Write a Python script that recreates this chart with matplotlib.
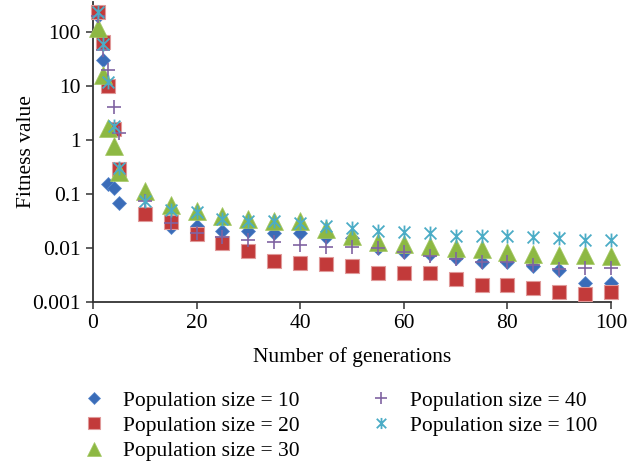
import matplotlib
matplotlib.use("Agg")
import matplotlib.pyplot as plt
from matplotlib.path import Path

plt.rcParams['font.family'] = ['Liberation Serif', 'DejaVu Serif']

generations = [1, 2, 3, 4, 5, 10, 15, 20, 25, 30, 35, 40, 45, 50, 55, 60, 65, 70, 75, 80, 85, 90, 95, 100]

pop10 = [200, 30, 0.155, 0.13, 0.068, 0.045, 0.024, 0.026, 0.021, 0.021, 0.019, 0.019, 0.016, 0.015,
         0.010, 0.0085, 0.0078, 0.0065, 0.0055, 0.0055, 0.0047, 0.0039, 0.0022, 0.0022]
pop20 = [235, 65, 10, 1.6, 0.29, 0.043, 0.030, 0.018, 0.0123, 0.0087, 0.0057, 0.0053, 0.0050, 0.0047,
         0.0035, 0.0035, 0.0035, 0.0027, 0.0021, 0.0021, 0.0018, 0.0015, 0.0014, 0.0015]
pop30 = [118, 16, 1.67, 0.78, 0.26, 0.115, 0.063, 0.049, 0.039, 0.035, 0.032, 0.031, 0.022, 0.017,
         0.013, 0.012, 0.011, 0.010, 0.0097, 0.0085, 0.0078, 0.0075, 0.0075, 0.0072]
pop40 = [200, 46, 20, 4.1, 1.36, 0.075, 0.029, 0.019, 0.016, 0.014, 0.013, 0.0114, 0.0105, 0.0105,
         0.0100, 0.0085, 0.0071, 0.0063, 0.0056, 0.0056, 0.0049, 0.0041, 0.0042, 0.0042]
pop100 = [235, 60, 12, 1.8, 0.30, 0.074, 0.050, 0.046, 0.035, 0.032, 0.031, 0.029, 0.026, 0.023,
          0.021, 0.020, 0.019, 0.017, 0.017, 0.017, 0.016, 0.015, 0.0141, 0.0141]

labels = ["Population size = 10", "Population size = 20", "Population size = 30",
          "Population size = 40", "Population size = 100"]
x_ticks = [0, 20, 40, 60, 80, 100]
y_ticks = [0.001, 0.01, 0.1, 1, 10, 100]
y_ticklabels = ["0.001", "0.01", "0.1", "1", "10", "100"]

star = Path([(0, -1), (0, 1), (-0.85, -0.85), (0.85, 0.85), (-0.85, 0.85), (0.85, -0.85)],
            [Path.MOVETO, Path.LINETO, Path.MOVETO, Path.LINETO, Path.MOVETO, Path.LINETO])

fig = plt.figure(figsize=(6.28, 4.66), dpi=100)
ax = fig.add_axes([0.148, 0.352, 0.825, 0.644])

ax.plot(generations, pop10, linestyle='none', marker='D', ms=7.3, color='#3A6CB8',
        mec='#5A88CC', mew=0.5, label=labels[0], clip_on=False, zorder=3)
ax.plot(generations, pop20, linestyle='none', marker='s', ms=10.3, color='#C23A3A',
        mec='#E09A9A', mew=0.8, label=labels[1], clip_on=False, zorder=4)
ax.plot(generations, pop30, linestyle='none', marker='^', ms=12.8, color='#8DB843',
        mec='#A5C865', mew=0.5, label=labels[2], clip_on=False, zorder=5)
ax.plot(generations, pop40, linestyle='none', marker='+', ms=10, color='#8064A2',
        mew=1.2, label=labels[3], clip_on=False, zorder=6)
ax.plot(generations, pop100, linestyle='none', marker=star, ms=10, color='#4BACC6',
        mew=1.3, label=labels[4], clip_on=False, zorder=7)

ax.set_yscale('log')
ax.set_xlim(0, 100)
ax.set_ylim(0.001, 360)
ax.set_xticks(x_ticks)
ax.set_yticks(y_ticks)
ax.set_yticklabels(y_ticklabels)
ax.minorticks_off()
ax.spines['top'].set_visible(False)
ax.spines['right'].set_visible(False)
for s in ['left', 'bottom']:
    ax.spines[s].set_linewidth(1.3)
    ax.spines[s].set_color('#333333')
ax.tick_params(axis='both', direction='out', length=5, width=1.1, labelsize=15.5, color='#333333', pad=4)

ax.set_xlabel("Number of generations", fontsize=15.5, labelpad=10)
ax.set_ylabel("Fitness value", fontsize=15.5, labelpad=-3)

fig.legend(loc='upper left', bbox_to_anchor=(0.133, 0.162), ncol=2, frameon=False,
           fontsize=15.5, handlelength=1.0, handletextpad=0.85, columnspacing=3.27,
           labelspacing=0.25, borderaxespad=0, borderpad=0, markerscale=0.8)

fig.savefig('out.png', dpi=100)
